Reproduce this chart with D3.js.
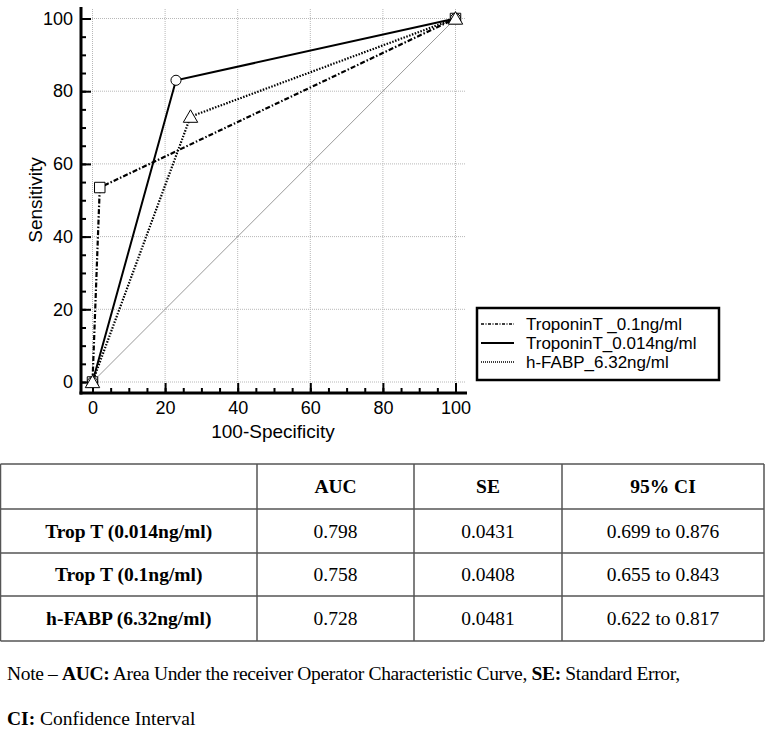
<!DOCTYPE html>
<html>
<head>
<meta charset="utf-8">
<script src="https://cdn.jsdelivr.net/npm/d3@7"></script>
<style>
  body { margin: 0; background: #fff; }
  svg { display: block; }
</style>
</head>
<body>
<svg id="chart" width="765" height="731"></svg>
<script>
// ROC curve points (100-Specificity, Sensitivity)
var tropT01 = [[0, 0], [2, 53.5], [100, 100]];
var tropT0014 = [[0, 0], [23, 83], [100, 100]];
var hfabp = [[0, 0], [27, 73], [100, 100]];
var seriesNames = ["TroponinT _0.1ng/ml", "TroponinT_0.014ng/ml", "h-FABP_6.32ng/ml"];
var axisTicks = [0, 20, 40, 60, 80, 100];

// table
var tableHeader = ["", "AUC", "SE", "95% CI"];
var rowLabels = ["Trop T (0.014ng/ml)", "Trop T (0.1ng/ml)", "h-FABP (6.32ng/ml)"];
var aucValues = ["0.798", "0.758", "0.728"];
var seValues = ["0.0431", "0.0408", "0.0481"];
var ciValues = ["0.699 to 0.876", "0.655 to 0.843", "0.622 to 0.817"];

var svg = d3.select("#chart");

var x = d3.scaleLinear().domain([0, 100]).range([92.5, 455.5]);
var y = d3.scaleLinear().domain([0, 100]).range([382, 18.5]);

var g = svg.append("g");
var sans = "'Liberation Sans', Arial, sans-serif";
var serif = "'Liberation Serif', 'Times New Roman', serif";

// grid
g.selectAll(".vgrid")
  .data(axisTicks)
  .enter().append("line")
    .attr("x1", function(d) { return x(d); })
    .attr("x2", function(d) { return x(d); })
    .attr("y1", 9)
    .attr("y2", 392)
    .attr("stroke", "#b8b8b8")
    .attr("stroke-width", 1)
    .attr("stroke-dasharray", "1,1");

g.selectAll(".hgrid")
  .data(axisTicks)
  .enter().append("line")
    .attr("x1", 82)
    .attr("x2", 465)
    .attr("y1", function(d) { return y(d); })
    .attr("y2", function(d) { return y(d); })
    .attr("stroke", "#b8b8b8")
    .attr("stroke-width", 1)
    .attr("stroke-dasharray", "1,1");

// reference diagonal
g.append("line")
  .attr("x1", x(0)).attr("y1", y(0))
  .attr("x2", x(100)).attr("y2", y(100))
  .attr("stroke", "#999")
  .attr("stroke-width", 1);

// axes
var axisX = 393, axisY = 81;
var minorTicks = d3.range(0, 101, 5);

var yAxis = g.append("g")
  .attr("transform", "translate(" + axisY + ",0)")
  .call(d3.axisLeft(y).tickValues(axisTicks).tickSizeInner(-10).tickSizeOuter(0).tickPadding(8));
var yMinor = g.append("g")
  .attr("transform", "translate(" + axisY + ",0)")
  .call(d3.axisLeft(y).tickValues(minorTicks).tickSizeInner(-5).tickSizeOuter(0).tickFormat(""));

var xAxis = g.append("g")
  .attr("transform", "translate(0," + axisX + ")")
  .call(d3.axisBottom(x).tickValues(axisTicks).tickSizeInner(-10).tickSizeOuter(0).tickPadding(8));
var xMinor = g.append("g")
  .attr("transform", "translate(0," + axisX + ")")
  .call(d3.axisBottom(x).tickValues(minorTicks).tickSizeInner(-5).tickSizeOuter(0).tickFormat(""));

[yAxis, yMinor, xAxis, xMinor].forEach(function(a) {
  a.select(".domain").remove();
  a.selectAll("line").attr("stroke", "#000").attr("stroke-width", 2);
  a.selectAll("text")
    .attr("fill", "#000")
    .style("font-family", sans)
    .style("font-size", "18px");
});

g.append("line")
  .attr("x1", axisY).attr("x2", axisY)
  .attr("y1", 7).attr("y2", axisX + 1.5)
  .attr("stroke", "#000").attr("stroke-width", 3);
g.append("line")
  .attr("x1", axisY - 1.5).attr("x2", 467)
  .attr("y1", axisX).attr("y2", axisX)
  .attr("stroke", "#000").attr("stroke-width", 3);

// axis titles
g.append("text")
  .attr("x", 273)
  .attr("y", 438)
  .attr("text-anchor", "middle")
  .style("font-family", sans)
  .style("font-size", "19px")
  .text("100-Specificity");

g.append("text")
  .attr("transform", "translate(42,200) rotate(-90)")
  .attr("text-anchor", "middle")
  .style("font-family", sans)
  .style("font-size", "19px")
  .text("Sensitivity");

// curves
var line = d3.line()
  .x(function(d) { return x(d[0]); })
  .y(function(d) { return y(d[1]); });

var dashes = ["5,2,1.5,2", null, "1.5,1.5"];
var curves = [tropT01, tropT0014, hfabp];

curves.forEach(function(c, i) {
  g.append("path")
    .datum(c)
    .attr("d", line)
    .attr("fill", "none")
    .attr("stroke", "#000")
    .attr("stroke-width", i == 1 ? 2 : 2.2)
    .attr("stroke-dasharray", dashes[i]);
});

// markers
var sym = [d3.symbolSquare, d3.symbolCircle, d3.symbolTriangle];
var symSize = [110, 80, 90];
curves.forEach(function(c, i) {
  g.selectAll(".m" + i)
    .data(c)
    .enter().append("path")
      .attr("transform", function(d) {
        return "translate(" + x(d[0]) + "," + (y(d[1]) + (i == 2 ? 1.5 : 0)) + ")";
      })
      .attr("d", d3.symbol().type(sym[i]).size(symSize[i]))
      .attr("fill", "#fff")
      .attr("stroke", "#000")
      .attr("stroke-width", 1);
});

// legend
var legend = g.append("g");
legend.append("rect")
  .attr("x", 477).attr("y", 308)
  .attr("width", 242).attr("height", 72)
  .attr("fill", "#fff")
  .attr("stroke", "#000")
  .attr("stroke-width", 2.5);

var legRows = legend.selectAll(".leg")
  .data(seriesNames)
  .enter().append("g")
    .attr("transform", function(d, i) { return "translate(0," + (324 + i * 19) + ")"; });

legRows.append("line")
  .attr("x1", 481).attr("x2", 514)
  .attr("stroke", "#000")
  .attr("stroke-width", function(d, i) { return i == 1 ? 2 : 1.3; })
  .attr("stroke-dasharray", function(d, i) { return i == 0 ? "3,1.5,1,1.5" : (i == 2 ? "1,1" : null); });

legRows.append("text")
  .attr("x", 526)
  .attr("dy", "0.35em")
  .style("font-family", sans)
  .style("font-size", "17px")
  .text(function(d) { return d; });

// table
var colX = [0.5, 257, 414, 562, 764];
var rowY = [464, 509, 553, 596, 641];
var tbl = svg.append("g");

tbl.selectAll(".hl")
  .data(rowY)
  .enter().append("line")
    .attr("x1", colX[0]).attr("x2", colX[4])
    .attr("y1", function(d) { return d; }).attr("y2", function(d) { return d; })
    .attr("stroke", "#555").attr("stroke-width", 1.5);

tbl.selectAll(".vl")
  .data(colX)
  .enter().append("line")
    .attr("x1", function(d) { return d; }).attr("x2", function(d) { return d; })
    .attr("y1", rowY[0]).attr("y2", rowY[4])
    .attr("stroke", "#555").attr("stroke-width", 1.5);

var rows = [tableHeader];
rowLabels.forEach(function(r, i) {
  rows.push([r, aucValues[i], seValues[i], ciValues[i]]);
});

rows.forEach(function(r, ri) {
  r.forEach(function(cell, ci) {
    tbl.append("text")
      .attr("x", (colX[ci] + colX[ci + 1]) / 2)
      .attr("y", (rowY[ri] + rowY[ri + 1]) / 2)
      .attr("dy", "0.35em")
      .attr("text-anchor", "middle")
      .style("font-family", serif)
      .style("font-size", "19.5px")
      .style("font-weight", (ri == 0 || ci == 0) ? "bold" : "normal")
      .text(cell);
  });
});

// note
var note1 = svg.append("text")
  .attr("x", 7).attr("y", 680)
  .attr("textLength", 673)
  .attr("lengthAdjust", "spacing")
  .style("font-family", serif)
  .style("font-size", "19.5px");
note1.append("tspan").text("Note \u2013 ");
note1.append("tspan").style("font-weight", "bold").text("AUC:");
note1.append("tspan").text(" Area Under the receiver Operator Characteristic Curve, ");
note1.append("tspan").style("font-weight", "bold").text("SE:");
note1.append("tspan").text(" Standard Error,");

var note2 = svg.append("text")
  .attr("x", 7).attr("y", 725)
  .style("font-family", serif)
  .style("font-size", "19.5px");
note2.append("tspan").style("font-weight", "bold").text("CI:");
note2.append("tspan").text(" Confidence Interval");
</script>
</body>
</html>
